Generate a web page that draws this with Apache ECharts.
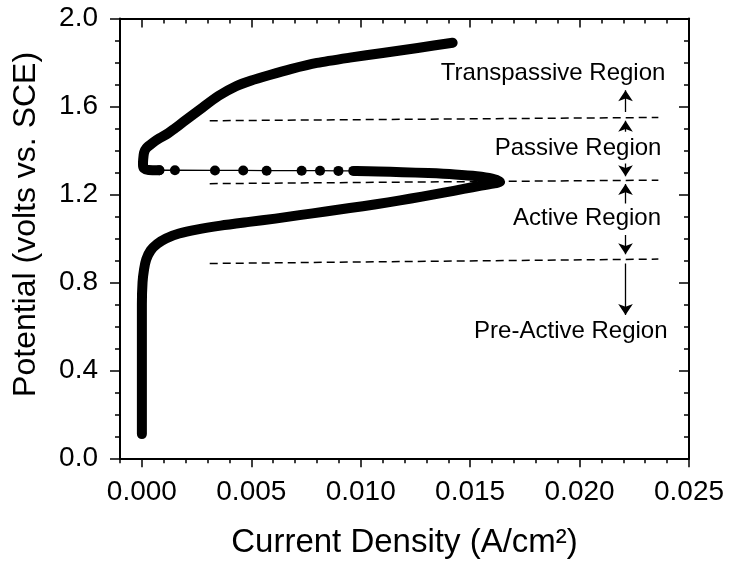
<!DOCTYPE html>
<html>
<head>
<meta charset="utf-8">
<script src="https://cdn.jsdelivr.net/npm/echarts@6/dist/echarts.min.js"></script>
<style>
  html, body { margin: 0; padding: 0; background: #fff; }
  #chart { width: 734px; height: 561px; }
</style>
</head>
<body>
<div id="chart"></div>
<script>
// Anodic polarization curve: current density (A/cm2) against potential (V vs. SCE)

// Forward sweep through the pre-active and active regions up to the current peak,
// then the first part of the return toward low current
const activeBranch = [
  [0.0000, 0.11], [0.0000, 0.30], [0.0000, 0.50], [0.0000, 0.70],
  [0.00003, 0.80], [0.0001, 0.86], [0.0002, 0.905], [0.0004, 0.945],
  [0.0007, 0.975], [0.0011, 1.000], [0.0017, 1.022], [0.0025, 1.040],
  [0.0036, 1.058], [0.0049, 1.075], [0.0061, 1.090], [0.0072, 1.106],
  [0.0084, 1.122], [0.0095, 1.138], [0.0107, 1.155], [0.0118, 1.173],
  [0.0128, 1.190], [0.0138, 1.208], [0.0147, 1.225], [0.0155, 1.240],
  [0.0161, 1.250], [0.01637, 1.258], [0.0160, 1.272], [0.0153, 1.283],
  [0.0143, 1.291], [0.0131, 1.297], [0.0119, 1.301], [0.0108, 1.304],
  [0.0098, 1.306]
];

// Sparse measured points where the current collapses into passivity
const passiveDots = [
  [0.0098, 1.306], [0.00966, 1.307], [0.00898, 1.307], [0.00814, 1.308],
  [0.0073, 1.308], [0.0057, 1.308], [0.00463, 1.309], [0.00334, 1.309],
  [0.00151, 1.310], [0.0008, 1.310]
];

// Passive film then breakdown into the transpassive region
const transpassiveBranch = [
  [0.0008, 1.310], [0.0003, 1.311], [0.0001, 1.318], [0.00005, 1.335],
  [0.00006, 1.360], [0.0001, 1.390], [0.0002, 1.410], [0.0005, 1.435],
  [0.0008, 1.455], [0.0012, 1.478], [0.0015, 1.500], [0.0019, 1.530],
  [0.0027, 1.590], [0.0035, 1.648], [0.0043, 1.692], [0.0050, 1.718],
  [0.0058, 1.742], [0.0068, 1.770], [0.0080, 1.798], [0.0095, 1.822],
  [0.0110, 1.843], [0.0126, 1.866], [0.0142, 1.890]
];

// Region boundaries (dashed), potential at left and right end
const boundaryXStart = 0.0031;
const boundaryXEnd = 0.0236;
const boundaryYLeft = [1.535, 1.249, 0.886];
const boundaryYRight = [1.550, 1.265, 0.906];

// Region names and where they sit
const regionNames = ['Transpassive Region', 'Passive Region', 'Active Region', 'Pre-Active Region'];
const regionLabelX = [0.01879, 0.01993, 0.02034, 0.01960];
const regionLabelY = [1.750, 1.409, 1.091, 0.575];

// Arrows marking the extent of each region
const arrowX = 0.0221;
const arrowTail = [1.575, 1.485, 1.341, 1.159, 1.015, 0.886];
const arrowHead = [1.674, 1.535, 1.283, 1.247, 0.928, 0.652];

// Axis ticks
const xTickLabels = [0, 0.005, 0.010, 0.015, 0.020, 0.025];
const yTickLabels = [0, 0.4, 0.8, 1.2, 1.6, 2.0];
const xMin = -0.001, xMax = 0.025, xMinorStep = 0.001;
const yMin = 0, yMax = 2.0, yMinorStep = 0.1;

const FONT = "'Liberation Sans', Arial, Helvetica, sans-serif";
const INK = '#000';

const chart = echarts.init(document.getElementById('chart'), null, { renderer: 'canvas' });

function xAxisDef(pos, major, withLabels) {
  const ax = {
    type: 'value', min: xMin, max: xMax, position: pos,
    axisLine: { show: major, onZero: false, lineStyle: { color: INK, width: 2 } },
    axisTick: {
      show: true, inside: pos === 'top',
      length: major ? 9 : 5,
      lineStyle: { color: INK, width: 1.5 }
    },
    axisLabel: { show: false },
    splitLine: { show: false }
  };
  if (major) {
    ax.axisTick.customValues = xTickLabels;
    ax.axisLabel = {
      show: withLabels, customValues: xTickLabels,
      formatter: v => v.toFixed(3),
      color: INK, fontFamily: FONT, fontSize: 28, margin: 20
    };
  } else {
    ax.interval = xMinorStep;
  }
  return ax;
}

function yAxisDef(pos, major, withLabels) {
  return {
    type: 'value', min: yMin, max: yMax, position: pos,
    interval: major ? 0.4 : yMinorStep,
    axisLine: { show: major, onZero: false, lineStyle: { color: INK, width: 2 } },
    axisTick: {
      show: true, inside: pos === 'right',
      length: major ? 10 : 5,
      lineStyle: { color: INK, width: 1.5 }
    },
    axisLabel: {
      show: withLabels,
      formatter: v => v.toFixed(1),
      color: INK, fontFamily: FONT, fontSize: 28, margin: 22
    },
    splitLine: { show: false }
  };
}

const xAxes = [
  xAxisDef('bottom', true, true),
  xAxisDef('bottom', false, false),
  xAxisDef('top', true, false),
  xAxisDef('top', false, false)
];
xAxes[0].name = 'Current Density (A/cm²)';
xAxes[0].nameLocation = 'middle';
xAxes[0].nameGap = 68;
xAxes[0].nameTextStyle = { color: INK, fontFamily: FONT, fontSize: 33 };

const yAxes = [
  yAxisDef('left', true, true),
  yAxisDef('left', false, false),
  yAxisDef('right', true, false),
  yAxisDef('right', false, false)
];
yAxes[0].name = 'Potential (volts vs. SCE)';
yAxes[0].nameLocation = 'middle';
yAxes[0].nameGap = 78;
yAxes[0].nameTextStyle = { color: INK, fontFamily: FONT, fontSize: 32, padding: [0, 0, 0, 28] };

const thickLine = { color: INK, width: 10, cap: 'round', join: 'round' };

const boundaryLines = boundaryYLeft.map((yl, i) => ({
  coords: [[boundaryXStart, yl], [boundaryXEnd, boundaryYRight[i]]]
}));
const arrowLines = arrowTail.map((t, i) => ({
  coords: [[arrowX, t], [arrowX, arrowHead[i]]]
}));
const regionPoints = regionNames.map((n, i) => ({ name: n, value: [regionLabelX[i], regionLabelY[i]] }));

chart.setOption({
  animation: false,
  backgroundColor: '#fff',
  grid: {
    left: 120, right: 45, top: 18.5, bottom: 102.7,
    containLabel: false, outerBoundsMode: 'none'
  },
  xAxis: xAxes,
  yAxis: yAxes,
  series: [
    {
      name: 'active', type: 'line', data: activeBranch, showSymbol: false, smooth: 0.25,
      lineStyle: thickLine, silent: true, z: 3
    },
    {
      name: 'passive', type: 'line', data: passiveDots, symbol: 'circle', symbolSize: 10,
      showSymbol: true, itemStyle: { color: INK }, lineStyle: { color: INK, width: 1.3 },
      silent: true, z: 3
    },
    {
      name: 'transpassive', type: 'line', data: transpassiveBranch, showSymbol: false, smooth: 0.25,
      lineStyle: thickLine, silent: true, z: 3
    },
    {
      name: 'boundaries', type: 'lines', coordinateSystem: 'cartesian2d',
      data: boundaryLines, symbol: 'none',
      lineStyle: { color: INK, width: 1.5, type: [8, 5], opacity: 1 },
      silent: true, z: 2
    },
    {
      name: 'arrows', type: 'lines', coordinateSystem: 'cartesian2d',
      data: arrowLines, symbol: ['none', 'arrow'], symbolSize: [6, 11],
      lineStyle: { color: INK, width: 1.3, opacity: 1 },
      silent: true, z: 2
    },
    {
      name: 'regions', type: 'scatter', data: regionPoints, symbolSize: 0,
      itemStyle: { color: INK, opacity: 1 },
      label: {
        show: true, position: 'inside', formatter: p => p.name,
        color: INK, opacity: 1, textBorderWidth: 0,
        fontFamily: FONT, fontSize: 24
      },
      silent: true, z: 4
    }
  ]
});
</script>
</body>
</html>
